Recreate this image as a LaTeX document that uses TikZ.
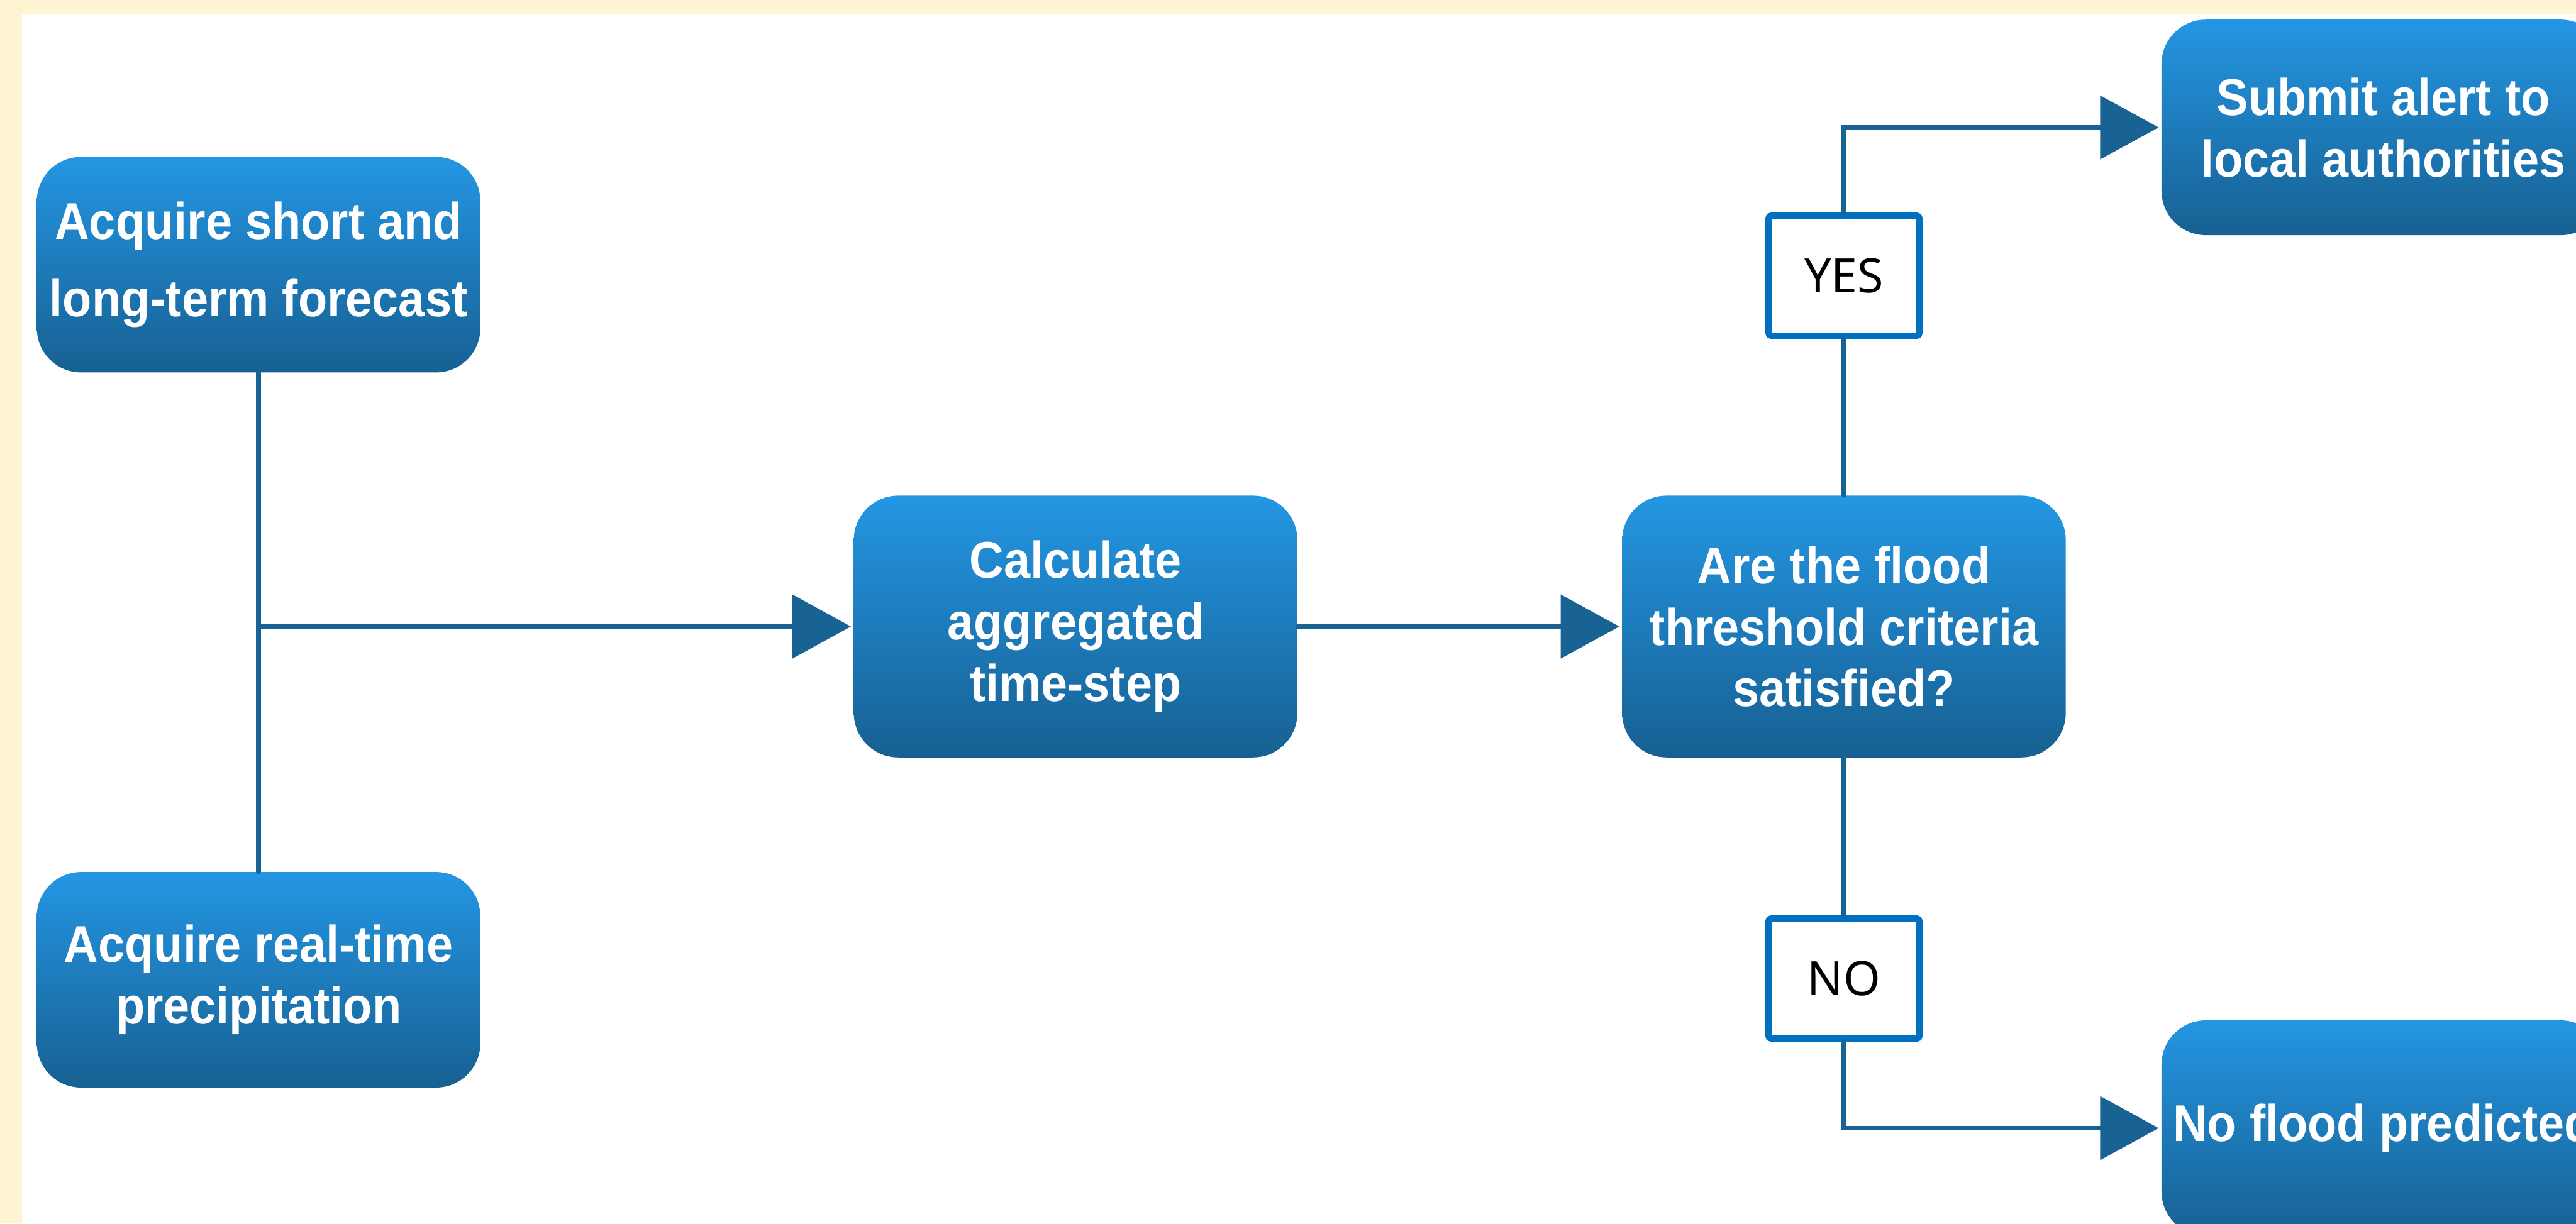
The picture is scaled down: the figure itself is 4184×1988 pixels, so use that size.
\documentclass[tikz,border=0pt]{standalone}
\usepackage{fontspec}
\newfontfamily\boxfont[FakeStretch=0.92]{Liberation Sans}
\newfontfamily\labfont{Noto Sans}
\usetikzlibrary{arrows.meta}
\definecolor{cream}{RGB}{255,244,209}
\definecolor{boxtop}{RGB}{36,150,227}
\definecolor{boxbot}{RGB}{23,96,146}
\definecolor{connc}{RGB}{24,98,148}
\definecolor{labc}{RGB}{0,112,192}
\begin{document}
\begin{tikzpicture}[x=0.01cm,y=-0.01cm,
  proc/.style={rounded corners=0.72cm, top color=boxtop, bottom color=boxbot, draw=none,
    minimum width=7.2cm, minimum height=3.5cm, inner sep=0pt, align=center, text=white,
    font=\boxfont\bfseries\fontsize{23.9}{28.45}\selectfont},
  tallproc/.style={proc, minimum height=4.25cm},
  labbox/.style={draw=labc, line width=0.1cm, fill=white, rounded corners=0.04cm,
    minimum width=2.45cm, minimum height=1.95cm, inner sep=0pt,
    font=\labfont\fontsize{21.9}{26}\selectfont},
  conn/.style={draw=connc, line width=0.08cm, line cap=round},
  arr/.style={conn, -{Triangle[length=0.95cm, width=1.02cm]}, shorten >=0.04cm}]
\useasboundingbox (0,0) rectangle (4184,1988);
\clip (0,0) rectangle (4184,1988);
\fill[cream] (0,0) rectangle (4184,1988);
\fill[white] (36,23) rectangle (4184,1988);

\node[proc, font=\boxfont\bfseries\fontsize{23.9}{35.6}\selectfont] (acq1) at (420,430) {Acquire short and\\long-term forecast};
\node[proc] (acq2) at (420,1592) {Acquire real-time\\precipitation};
\node[tallproc] (calc) at (1747,1018) {Calculate\\aggregated\\time-step};
\node[tallproc] (dec) at (2995,1018) {Are the flood\\threshold criteria\\satisfied?};
\node[proc] (alert) at (3871,207) {Submit alert to\\local authorities};
\node[proc] (noflood) at (3871,1833) {No flood predicted};

\node[labbox] (yes) at (2995,448) {YES};
\node[labbox] (no) at (2995,1590) {NO};

\coordinate (j) at (acq1.south |- calc.west);

\draw[conn] (acq1.south) -- (acq2.north);
\draw[arr] (j) -- (calc.west);
\draw[arr] (calc.east) -- (dec.west);
\draw[conn] (dec.north) -- (yes.south);
\draw[arr] (yes.north) |- (alert.west);
\draw[conn] (dec.south) -- (no.north);
\draw[arr] (no.south) |- (noflood.west);
\end{tikzpicture}
\end{document}
